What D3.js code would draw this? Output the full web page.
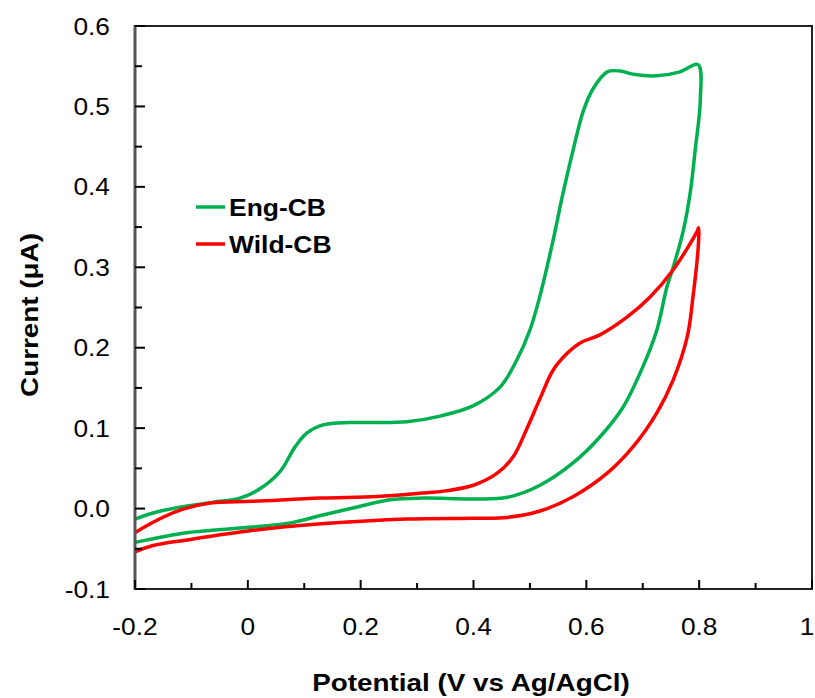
<!DOCTYPE html>
<html>
<head>
<meta charset="utf-8">
<script src="https://cdn.jsdelivr.net/npm/d3@7"></script>
<style>
  body { margin: 0; background: #fff; }
  svg { display: block; font-family: "Liberation Sans", Arial, sans-serif; }
</style>
</head>
<body>
<svg id="chart" width="815" height="698"></svg>
<script>
// Cyclic voltammograms, forward scan then reverse scan
const engPotential = [-0.2, -0.16, -0.11, -0.06, -0.014, 0.02, 0.057, 0.084, 0.105, 0.133, 0.18, 0.222, 0.282, 0.341, 0.4, 0.447, 0.477, 0.5, 0.518, 0.54, 0.558, 0.577, 0.595, 0.612, 0.637, 0.66, 0.683, 0.725, 0.766, 0.798,
  0.802, 0.793, 0.784, 0.772, 0.754, 0.743, 0.725, 0.7, 0.665, 0.624, 0.577, 0.518, 0.46, 0.4, 0.311, 0.252, 0.194, 0.133, 0.075, 0.009, -0.108, -0.2];
const engCurrent = [-0.013, -0.004, 0.003, 0.008, 0.013, 0.024, 0.046, 0.077, 0.094, 0.104, 0.107, 0.107, 0.108, 0.115, 0.128, 0.151, 0.185, 0.222, 0.265, 0.33, 0.39, 0.447, 0.495, 0.522, 0.543, 0.544, 0.54, 0.538, 0.543, 0.552,
  0.508, 0.446, 0.392, 0.346, 0.3, 0.276, 0.222, 0.176, 0.126, 0.089, 0.057, 0.029, 0.014, 0.012, 0.013, 0.011, 0.002, -0.008, -0.018, -0.023, -0.03, -0.042];

const wildPotential = [-0.2, -0.168, -0.12, -0.067, 0.009, 0.128, 0.23, 0.305, 0.35, 0.4, 0.442, 0.47, 0.495, 0.518, 0.541, 0.566, 0.589, 0.624, 0.672, 0.713, 0.754, 0.796, 0.799,
  0.798, 0.789, 0.779, 0.754, 0.725, 0.683, 0.637, 0.577, 0.518, 0.46, 0.4, 0.282, 0.13, 0.01, -0.108, -0.168, -0.2];
const wildCurrent = [-0.03, -0.017, -0.002, 0.007, 0.009, 0.013, 0.015, 0.019, 0.022, 0.029, 0.044, 0.064, 0.1, 0.137, 0.172, 0.193, 0.206, 0.216, 0.238, 0.263, 0.297, 0.344, 0.349,
  0.322, 0.263, 0.214, 0.16, 0.119, 0.077, 0.044, 0.015, -0.003, -0.011, -0.012, -0.013, -0.019, -0.027, -0.039, -0.046, -0.054];

const seriesNames = ["Eng-CB", "Wild-CB"];
const seriesColors = ["#00b050", "#ff0000"];
const xTicks = [-0.2, 0, 0.2, 0.4, 0.6, 0.8, 1];
const xTickLabels = ["-0.2", "0", "0.2", "0.4", "0.6", "0.8", "1"];
const yTicks = [-0.1, 0, 0.1, 0.2, 0.3, 0.4, 0.5, 0.6];
const yTickLabels = ["-0.1", "0.0", "0.1", "0.2", "0.3", "0.4", "0.5", "0.6"];

const svg = d3.select("#chart");
const m = { left: 135, right: 812, top: 26, bottom: 589 };
const x = d3.scaleLinear().domain([-0.2, 1]).range([m.left, m.right]);
const y = d3.scaleLinear().domain([-0.1, 0.6]).range([m.bottom, m.top]);
const stretch = 1.12;

function label(g, text, px, py, anchor, opts = {}) {
  const rot = opts.rotate ? ` rotate(${opts.rotate})` : "";
  return g.append("text")
    .attr("transform", `translate(${px},${py})${rot} scale(${opts.sx || stretch},1)`)
    .attr("text-anchor", anchor)
    .style("font-size", (opts.size || 23.5) + "px")
    .style("font-weight", opts.bold ? "bold" : "normal")
    .attr("fill", "#000")
    .text(text);
}

// curves
const line = d3.line()
  .x((d) => x(d[0]))
  .y((d) => y(d[1]))
  .curve(d3.curveCatmullRom.alpha(0.5));

const series = [
  d3.zip(engPotential, engCurrent),
  d3.zip(wildPotential, wildCurrent),
];

svg.selectAll("path.cv")
  .data(series)
  .join("path")
  .attr("class", "cv")
  .attr("d", line)
  .attr("fill", "none")
  .attr("stroke", (d, i) => seriesColors[i])
  .attr("stroke-width", 3.5)
  .attr("stroke-linejoin", "round");

// frame
svg.append("path")
  .attr("d", `M${m.left},${m.top}H${m.right}V${m.bottom}H${m.left}`)
  .attr("fill", "none")
  .attr("stroke", "#222")
  .attr("stroke-width", 2);
svg.append("line")
  .attr("x1", m.left).attr("x2", m.left)
  .attr("y1", m.top - 1).attr("y2", m.bottom + 1)
  .attr("stroke", "#555")
  .attr("stroke-width", 3);

// x ticks (major + minor, inward)
const ax = svg.append("g");
d3.range(-0.2, 1.0001, 0.1).forEach((v, i) => {
  const major = i % 2 === 0;
  ax.append("line")
    .attr("x1", x(v)).attr("x2", x(v))
    .attr("y1", m.bottom).attr("y2", m.bottom - (major ? 9 : 6))
    .attr("stroke", "#000").attr("stroke-width", 2);
});
// last label sits at the page edge, keep it inside
xTicks.forEach((v, i) => label(ax, xTickLabels[i], Math.min(x(v), 807), 635, "middle"));

// y ticks
const ay = svg.append("g");
d3.range(-0.1, 0.6001, 0.05).forEach((v, i) => {
  const major = i % 2 === 0;
  ay.append("line")
    .attr("x1", m.left).attr("x2", m.left + (major ? 10 : 7))
    .attr("y1", y(v)).attr("y2", y(v))
    .attr("stroke", "#000").attr("stroke-width", 2);
});
yTicks.forEach((v, i) => label(ay, yTickLabels[i], 110, y(v) + 8.5, "end"));

// axis titles
label(svg, "Potential (V vs Ag/AgCl)", 471, 691, "middle", { bold: true, size: 24, sx: 1.16 });
label(svg, "Current (μA)", 38, 315, "middle", { bold: true, size: 24, sx: 1.16, rotate: -90 });

// legend
const legend = svg.append("g");
seriesNames.forEach((name, i) => {
  const ly = 207 + i * 37;
  legend.append("line")
    .attr("x1", 196).attr("x2", 225)
    .attr("y1", ly).attr("y2", ly)
    .attr("stroke", seriesColors[i]).attr("stroke-width", 3.5);
  label(legend, name, 229, ly + 8.5, "start", { bold: true, size: 23, sx: 1.15 });
});
</script>
</body>
</html>
